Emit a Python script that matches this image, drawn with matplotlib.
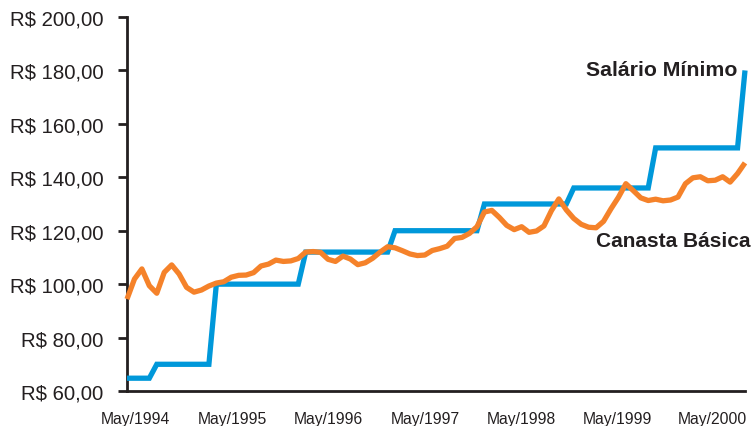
import matplotlib
matplotlib.use("Agg")
import matplotlib.pyplot as plt

# Monthly data, May/1994 (index 0) to Apr/2001 (index 83)
salario_minimo = (
    [64.79] * 4 +      # May-Aug 1994
    [70.0] * 8 +       # Sep 1994 - Apr 1995
    [100.0] * 12 +     # May 1995 - Apr 1996
    [112.0] * 12 +     # May 1996 - Apr 1997
    [120.0] * 12 +     # May 1997 - Apr 1998
    [130.0] * 12 +     # May 1998 - Apr 1999
    [136.0] * 11 +     # May 1999 - Mar 2000
    [151.0] * 12 +     # Apr 2000 - Mar 2001
    [180.0]            # Apr 2001
)

canasta_basica = [
    94.4, 101.9, 105.7, 99.4, 96.6, 104.4, 107.2, 103.8, 98.8, 97.0,
    97.8, 99.3, 100.4, 100.9, 102.6, 103.3, 103.4, 104.3, 106.8, 107.5,
    109.0, 108.5, 108.7, 109.6, 112.0, 112.2, 111.9, 109.3, 108.5, 110.5,
    109.4, 107.3, 108.0, 109.7, 112.0, 114.0, 113.6, 112.5, 111.3, 110.7,
    110.9, 112.6, 113.3, 114.2, 117.1, 117.5, 119.0, 121.5, 127.0, 127.6,
    125.0, 122.0, 120.4, 121.5, 119.4, 119.9, 121.8, 127.5, 131.9, 127.8,
    124.6, 122.4, 121.3, 121.1, 123.5, 128.2, 132.5, 137.6, 135.0, 132.3,
    131.3, 131.8, 131.2, 131.5, 132.6, 137.6, 139.8, 140.2, 138.7, 138.9,
    140.2, 138.2, 141.4, 145.4,
]

months = list(range(len(canasta_basica)))

y_ticks = [60, 80, 100, 120, 140, 160, 180, 200]
y_tick_labels = ["R$ %d,00" % v for v in y_ticks]

x_tick_labels = ["May/1994", "May/1995", "May/1996", "May/1997",
                 "May/1998", "May/1999", "May/2000"]
x_tick_pos = [1.2, 14.2, 27.1, 40.0, 52.9, 65.9, 78.6]

BLUE = "#0098da"
ORANGE = "#f5822a"
DARK = "#231f20"
FONT = "Liberation Sans"

fig = plt.figure(figsize=(7.51, 4.27), dpi=100)
ax = fig.add_axes([127 / 751, 35 / 427, 618 / 751, 374 / 427])

ax.plot(months, salario_minimo, color=BLUE, lw=3.8, clip_on=False,
        solid_joinstyle="miter", solid_capstyle="butt", zorder=3)
ax.plot(months, canasta_basica, color=ORANGE, lw=3.8, clip_on=False,
        solid_joinstyle="round", solid_capstyle="butt", zorder=4)

ax.set_xlim(0, 83)
ax.set_ylim(60, 200)

for s in ["top", "right"]:
    ax.spines[s].set_visible(False)
for s in ["left", "bottom"]:
    ax.spines[s].set_linewidth(2.0)
    ax.spines[s].set_color(DARK)

ax.set_yticks(y_ticks)
ax.set_yticklabels(y_tick_labels, fontsize=14.7, family=FONT, color=DARK)
ax.tick_params(axis="y", length=6.5, width=2.0, color=DARK, pad=10.5)

ax.set_xticks(x_tick_pos)
ax.set_xticklabels(x_tick_labels, fontsize=11.3, family=FONT, color=DARK)
ax.tick_params(axis="x", length=0, pad=14.5)

ax.text(0.982, 0.834, "Salário Mínimo", transform=fig.transFigure,
        ha="right", va="center", fontsize=15.3, fontweight="bold",
        family=FONT, color=DARK)
ax.text(0.999, 0.434, "Canasta Básica", transform=fig.transFigure,
        ha="right", va="center", fontsize=15.0, fontweight="bold",
        family=FONT, color=DARK)

fig.savefig("out.png", dpi=100)
